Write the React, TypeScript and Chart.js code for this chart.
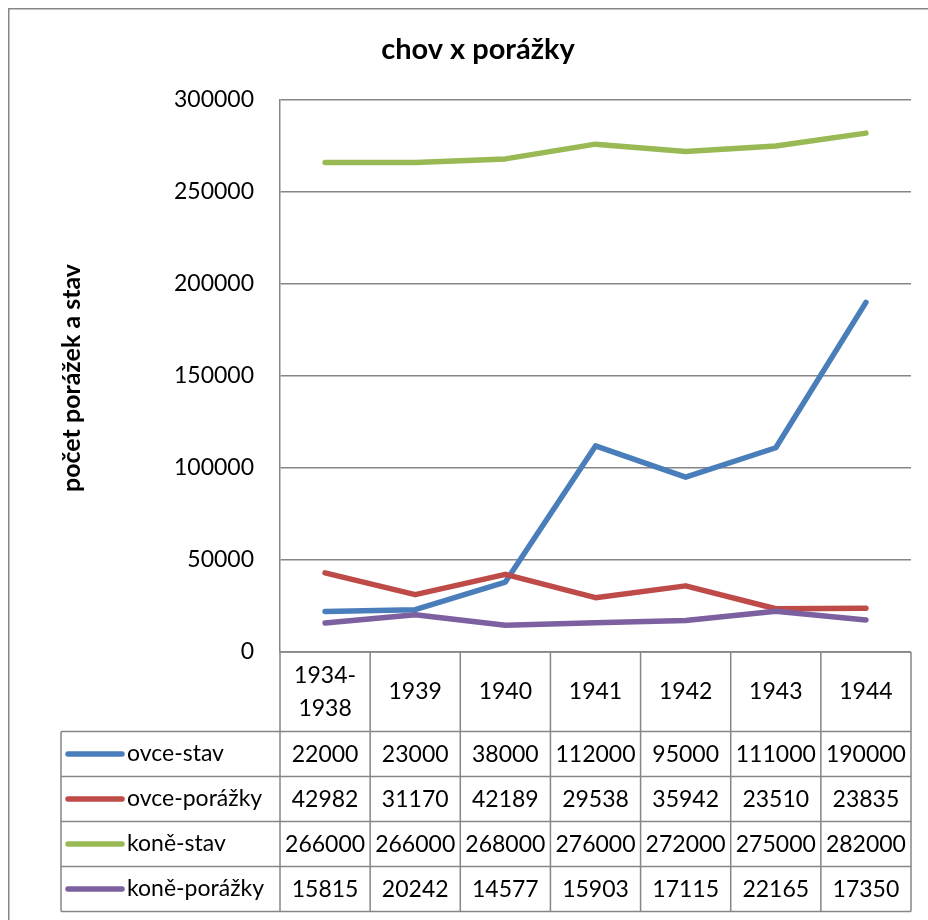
import React, { useEffect, useRef } from "react";
import { Chart, registerables } from "chart.js";

Chart.register(...registerables);

const categories: string[][] = [["1934-", "1938"], ["1939"], ["1940"], ["1941"], ["1942"], ["1943"], ["1944"]];
const ovceStav = [22000, 23000, 38000, 112000, 95000, 111000, 190000];
const ovcePorazky = [42982, 31170, 42189, 29538, 35942, 23510, 23835];
const koneStav = [266000, 266000, 268000, 276000, 272000, 275000, 282000];
const konePorazky = [15815, 20242, 14577, 15903, 17115, 22165, 17350];
const seriesNames = ["ovce-stav", "ovce-porážky", "koně-stav", "koně-porážky"];
const seriesColors = ["#4A7EBB", "#BE4B48", "#98B954", "#7D60A0"];
const titleText = "chov x porážky";
const yTitleText = "počet porážek a stav";

const FONT = "Lato, 'Open Sans', sans-serif";
const GRID = "#868686";

const tablePlugin = {
  id: "tablePlugin",
  afterDraw(chart: any) {
    const ctx = chart.ctx as CanvasRenderingContext2D;
    const ca = chart.chartArea;
    const xs = chart.scales.x;
    const n = categories.length;
    const band = (ca.right - ca.left) / n;
    const allSeries = [ovceStav, ovcePorazky, koneStav, konePorazky];
    ctx.save();
    ctx.strokeStyle = GRID;
    ctx.lineWidth = 1.5;
    ctx.strokeRect(0.75, 0.75, chart.width + 40, chart.height + 40);
    ctx.fillStyle = "#000";
    ctx.font = `bold 29px ${FONT}`;
    ctx.textAlign = "center";
    ctx.textBaseline = "middle";
    ctx.fillText(titleText, 470, 42);
    ctx.save();
    ctx.translate(64, (ca.top + ca.bottom) / 2 + 2);
    ctx.rotate(-Math.PI / 2);
    ctx.font = `bold 25px ${FONT}`;
    ctx.fillText(yTitleText, 0, 0);
    ctx.restore();

    const headerTop = ca.bottom;
    const headerBottom = headerTop + 79.5;
    const rowH = 45;
    const legendLeft = 53;
    const tableBottom = headerBottom + rowH * allSeries.length;

    ctx.strokeStyle = GRID;
    ctx.lineWidth = 1.5;
    ctx.beginPath();
    for (let i = 0; i <= n; i++) {
      const cx = i < n ? xs.getPixelForValue(i) - band / 2 : xs.getPixelForValue(n - 1) + band / 2;
      ctx.moveTo(cx, headerTop);
      ctx.lineTo(cx, tableBottom);
    }
    ctx.moveTo(ca.left, headerTop);
    ctx.lineTo(ca.right, headerTop);
    for (let r = 0; r <= allSeries.length; r++) {
      const y = headerBottom + r * rowH;
      ctx.moveTo(legendLeft, y);
      ctx.lineTo(ca.right, y);
    }
    ctx.moveTo(legendLeft, headerBottom);
    ctx.lineTo(legendLeft, tableBottom);
    ctx.stroke();

    ctx.fillStyle = "#000";
    ctx.font = `23px ${FONT}`;
    ctx.textAlign = "center";
    ctx.textBaseline = "middle";
    categories.forEach((lines, i) => {
      const cx = xs.getPixelForValue(i);
      const cy = (headerTop + headerBottom) / 2;
      const lh = 33;
      lines.forEach((t, k) => {
        ctx.fillText(t, cx, cy + (k - (lines.length - 1) / 2) * lh);
      });
    });
    allSeries.forEach((vals, r) => {
      const cy = headerBottom + r * rowH + rowH / 2;
      vals.forEach((v, i) => {
        ctx.fillText(String(v), xs.getPixelForValue(i), cy + 1);
      });
      ctx.save();
      ctx.strokeStyle = seriesColors[r];
      ctx.lineWidth = 5.5;
      ctx.lineCap = "round";
      ctx.beginPath();
      ctx.moveTo(60, cy);
      ctx.lineTo(114, cy);
      ctx.stroke();
      ctx.restore();
      ctx.textAlign = "left";
      ctx.fillText(seriesNames[r], 119, cy);
      ctx.textAlign = "center";
    });
    ctx.restore();
  },
};

export default function App() {
  const ref = useRef<HTMLCanvasElement>(null);
  useEffect(() => {
    if (!ref.current) return;
    const allSeries = [ovceStav, ovcePorazky, koneStav, konePorazky];
    const chart = new Chart(ref.current, {
      type: "line",
      data: {
        labels: categories.map((c) => c.join("")),
        datasets: allSeries.map((d, i) => ({
          label: seriesNames[i],
          data: d,
          borderColor: seriesColors[i],
          backgroundColor: seriesColors[i],
          borderWidth: 5.5,
          pointRadius: 0,
          tension: 0,
          borderJoinStyle: "round" as const,
          borderCapStyle: "round" as const,
          order: allSeries.length - 1 - i,
        })),
      },
      options: {
        responsive: false,
        animation: false,
        layout: { padding: { left: 0, right: 17, top: 92, bottom: 268 } },
        plugins: { legend: { display: false }, tooltip: { enabled: false }, title: { display: false } },
        scales: {
          x: { type: "category", offset: true, display: false },
          y: {
            min: 0,
            max: 300000,
            afterFit: (s: any) => {
              s.width = 272;
            },
            ticks: {
              stepSize: 50000,
              padding: 26,
              color: "#000",
              font: { family: FONT, size: 23 },
              callback: (v: any) => String(v),
            },
            grid: { color: GRID, lineWidth: 1.5, drawTicks: false },
            border: { display: true, color: GRID, width: 1.5 },
          },
        },
      },
      plugins: [tablePlugin],
    });
    return () => chart.destroy();
  }, []);
  return (
    <div style={{ position: "fixed", left: 8, top: 8, width: 920, height: 912 }}>
      <canvas ref={ref} width={920} height={912} style={{ display: "block" }} />
    </div>
  );
}
